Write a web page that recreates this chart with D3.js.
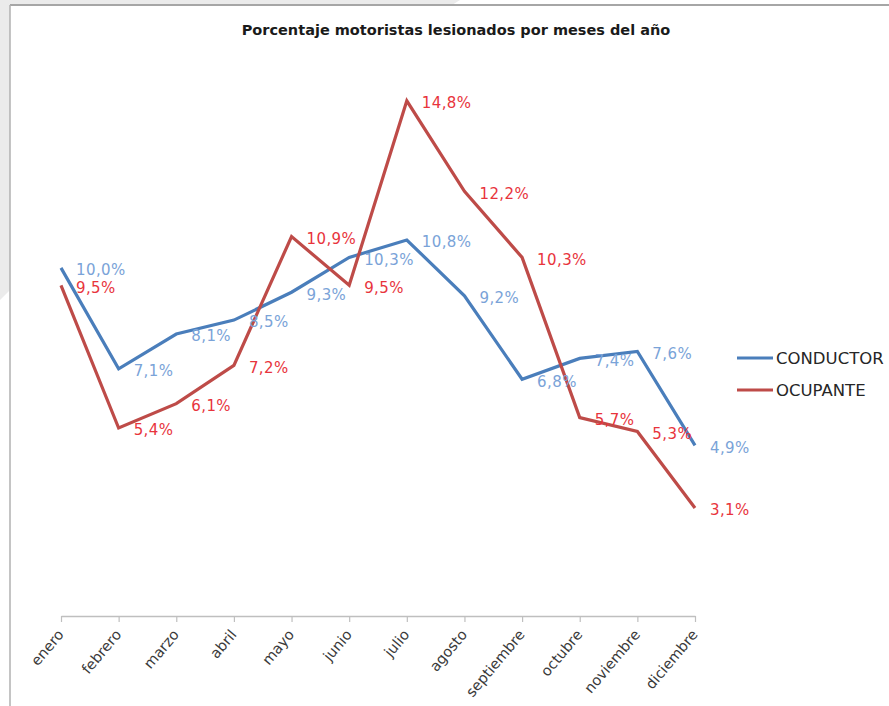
<!DOCTYPE html>
<html>
<head>
<meta charset="utf-8">
<script src="https://cdn.jsdelivr.net/npm/d3@7"></script>
<style>
  html, body { margin: 0; padding: 0; background: #ffffff; }
  svg { display: block; }
</style>
</head>
<body>
<script>
const months = ["enero","febrero","marzo","abril","mayo","junio","julio","agosto","septiembre","octubre","noviembre","diciembre"];
const conductor = [10.0, 7.1, 8.1, 8.5, 9.3, 10.3, 10.8, 9.2, 6.8, 7.4, 7.6, 4.9];
const ocupante  = [9.5, 5.4, 6.1, 7.2, 10.9, 9.5, 14.8, 12.2, 10.3, 5.7, 5.3, 3.1];
const seriesNames = ["CONDUCTOR", "OCUPANTE"];
const titleText = "Porcentaje motoristas lesionados por meses del año";

const W = 889, H = 706;
const svg = d3.select("body").append("svg").attr("width", W).attr("height", H);

// background frame
svg.append("rect").attr("x",0).attr("y",0).attr("width",W).attr("height",H).attr("fill","#ffffff");
svg.append("polygon").attr("points","0,0 460,0 452,5 10,5 10,290 0,300").attr("fill","#ebebeb");
svg.append("line").attr("x1",10).attr("y1",5).attr("x2",W).attr("y2",5).attr("stroke","#a6a6a6").attr("stroke-width",2);
svg.append("line").attr("x1",10).attr("y1",5).attr("x2",10).attr("y2",H).attr("stroke","#b0b0b0").attr("stroke-width",1.5);

// title
svg.append("text").attr("x", 456).attr("y", 35).attr("text-anchor","middle")
  .attr("font-family","DejaVu Sans").attr("font-weight","bold").attr("font-size","14.5px")
  .attr("fill","#1a1a1a").text(titleText);

const x = d3.scalePoint().domain(months).range([61, 695]);
const y = d3.scaleLinear().domain([0, 16]).range([616, 59]);

// x axis
const xAxis = d3.axisBottom(x).tickSize(6).tickSizeOuter(0);
const gx = svg.append("g").attr("transform","translate(0,616)").call(xAxis);
gx.select(".domain").attr("stroke","#bfbfbf").attr("stroke-width",1.5);
gx.selectAll(".tick line").attr("stroke","#bfbfbf").attr("stroke-width",1.2);
gx.selectAll(".tick text")
  .attr("font-family","DejaVu Sans").attr("font-size","14.5px").attr("fill","#3a3a3a")
  .attr("text-anchor","end").attr("y",0).attr("dy",0)
  .attr("transform","translate(3,19) rotate(-50)");

const colors = ["#4a7ebb", "#be4b48"];
const labelColors = ["#7aa3d8", "#e8343c"];
const data = [conductor, ocupante];

const line = d3.line().x((d,i) => x(months[i])).y(d => y(d));

data.forEach((vals, s) => {
  svg.append("path").datum(vals).attr("d", line)
    .attr("fill","none").attr("stroke", colors[s]).attr("stroke-width", 3.2)
    .attr("stroke-linejoin","miter");
});

data.forEach((vals, s) => {
  svg.append("g").selectAll("text").data(vals).join("text")
    .attr("x", (d,i) => x(months[i]) + 15)
    .attr("y", d => y(d) + 2)
    .attr("dy","0.36em")
    .attr("font-family","DejaVu Sans").attr("font-size","15px")
    .attr("letter-spacing","0.4px")
    .attr("fill", labelColors[s])
    .text(d => d.toFixed(1).replace(".", ",") + "%");
});

// legend
const legendY = [358, 390];
seriesNames.forEach((name, s) => {
  svg.append("line").attr("x1",737).attr("x2",773).attr("y1",legendY[s]).attr("y2",legendY[s])
    .attr("stroke", colors[s]).attr("stroke-width",3);
  svg.append("text").attr("x",776).attr("y",legendY[s]).attr("dy","0.36em")
    .attr("font-family","DejaVu Sans").attr("font-size","16.5px").attr("fill","#262626")
    .text(name);
});
</script>
</body>
</html>
